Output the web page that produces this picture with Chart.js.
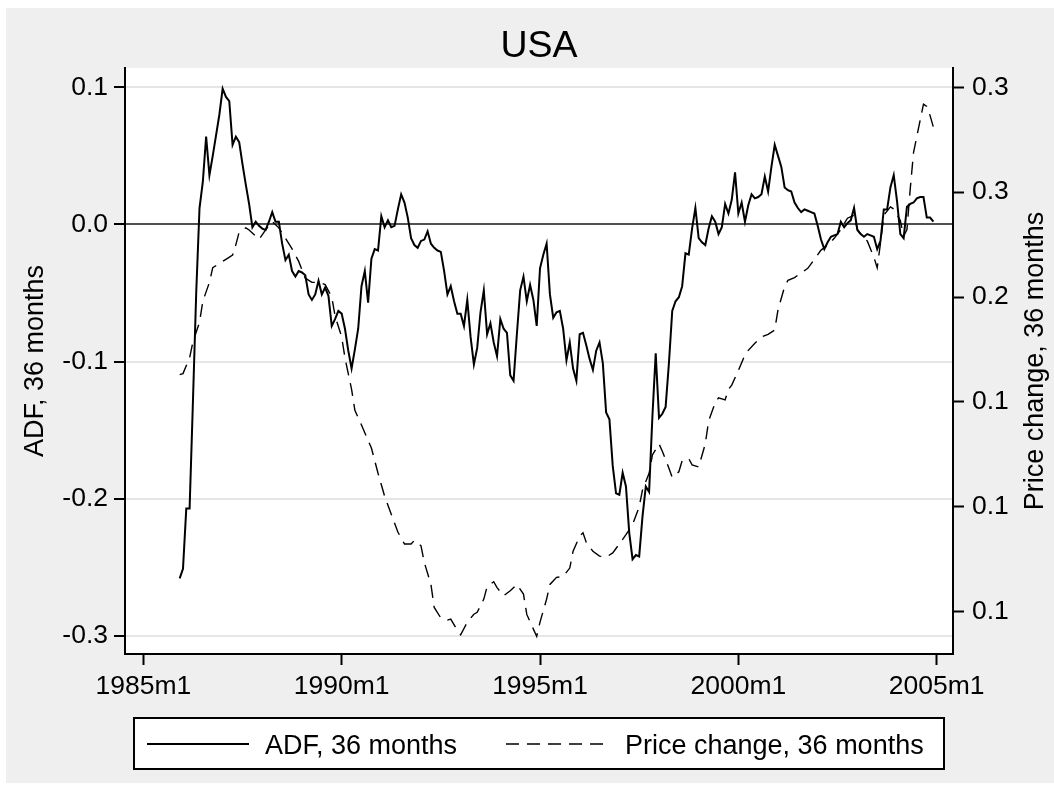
<!DOCTYPE html>
<html>
<head>
<meta charset="utf-8">
<title>USA</title>
<script src="https://cdn.jsdelivr.net/npm/chart.js@4/dist/chart.umd.min.js"></script>
<style>
  body { margin: 0; background: #fff; }
  canvas { display: block; }
</style>
</head>
<body>
<canvas id="usa-chart" width="1054" height="785"></canvas>
<script>
// months are counted from 1985m1 = 0

// ADF, 36 months - monthly from 1985m12 (month 11) to 2004m12 (month 239)
const adfStart = 11;
const adfValues = [
    -0.258,
    -0.251, -0.207, -0.207, -0.130, -0.050, 0.012, 0.031, 0.064, 0.036, 0.050, 0.065, 0.080,
    0.099, 0.093, 0.090, 0.058, 0.064, 0.060, 0.044, 0.029, 0.015, -0.002, 0.002, -0.001,
    -0.003, -0.004, 0.002, 0.009, 0.002, 0.002, -0.014, -0.026, -0.022, -0.034, -0.038, -0.034,
    -0.035, -0.037, -0.051, -0.055, -0.051, -0.041, -0.051, -0.046, -0.052, -0.074, -0.069, -0.063,
    -0.065, -0.076, -0.092, -0.105, -0.091, -0.076, -0.045, -0.034, -0.057, -0.025, -0.018, -0.019,
    0.006, -0.002, 0.003, -0.002, -0.001, 0.011, 0.022, 0.016, 0.005, -0.010, -0.015, -0.017,
    -0.012, -0.011, -0.005, -0.014, -0.017, -0.019, -0.020, -0.034, -0.051, -0.045, -0.056, -0.065,
    -0.065, -0.074, -0.055, -0.082, -0.102, -0.090, -0.064, -0.048, -0.080, -0.072, -0.086, -0.096,
    -0.069, -0.076, -0.079, -0.110, -0.114, -0.080, -0.048, -0.038, -0.056, -0.044, -0.055, -0.074,
    -0.032, -0.022, -0.014, -0.051, -0.068, -0.064, -0.063, -0.076, -0.099, -0.086, -0.105, -0.114,
    -0.080, -0.079, -0.088, -0.098, -0.106, -0.092, -0.086, -0.101, -0.137, -0.142, -0.176, -0.196,
    -0.197, -0.181, -0.191, -0.225, -0.244, -0.241, -0.242, -0.213, -0.191, -0.195, -0.140, -0.094,
    -0.141, -0.138, -0.133, -0.101, -0.063, -0.056, -0.053, -0.045, -0.021, -0.022, -0.003, 0.012,
    -0.010, -0.013, -0.015, -0.003, 0.006, 0.002, -0.007, -0.002, 0.015, 0.008, 0.018, 0.038,
    0.008, 0.016, 0.002, 0.014, 0.022, 0.019, 0.020, 0.022, 0.035, 0.024, 0.042, 0.058,
    0.050, 0.042, 0.027, 0.025, 0.024, 0.016, 0.012, 0.009, 0.011, 0.010, 0.009, 0.008,
    -0.001, -0.011, -0.018, -0.013, -0.009, -0.008, -0.007, 0.002, -0.002, 0.001, 0.003, 0.012,
    -0.004, -0.007, -0.009, -0.007, -0.008, -0.009, -0.018, -0.012, 0.011, 0.011, 0.027, 0.036,
    0.017, -0.007, -0.010, 0.013, 0.015, 0.016, 0.019, 0.020, 0.020, 0.005, 0.005, 0.002
];

// Price change, 36 months (right axis)
const priceMonths = [
    11, 12, 14, 15, 17, 18, 20, 21, 23, 25, 27, 28, 29, 31, 32, 34, 35, 37, 39, 41,
    43, 45, 47, 49, 51, 53, 55, 57, 58, 60, 61, 63, 64, 66, 69, 71, 73, 75, 77, 79,
    81, 82, 84, 85, 87, 88, 90, 92, 93, 95, 96, 98, 100, 101, 103, 104, 106, 107, 109, 111,
    113, 115, 116, 118, 119, 120, 122, 123, 125, 127, 129, 130, 132, 133, 134, 136, 138, 140, 142, 144,
    146, 148, 150, 151, 153, 154, 156, 157, 159, 160, 162, 163, 165, 166, 168, 170, 171, 173, 174, 176,
    177, 178, 180, 182, 183, 185, 187, 189, 191, 192, 194, 195, 197, 199, 201, 203, 205, 207, 209, 211,
    213, 215, 216, 218, 219, 221, 222, 223, 224, 226, 227, 229, 230, 231, 232, 233, 235, 236, 237, 238,
    239
];
const priceValues = [
    0.163, 0.1635, 0.171, 0.1785, 0.188, 0.198, 0.207, 0.214, 0.216, 0.218, 0.220, 0.225, 0.231, 0.233, 0.232, 0.229, 0.2275, 0.232, 0.236, 0.233,
    0.228, 0.223, 0.217, 0.209, 0.207, 0.207, 0.206, 0.200, 0.191, 0.181, 0.171, 0.156, 0.146, 0.139, 0.128, 0.116, 0.105, 0.0965, 0.088, 0.0823,
    0.0823, 0.084, 0.0814, 0.0735, 0.063, 0.052, 0.047, 0.046, 0.0465, 0.041, 0.039, 0.045, 0.0488, 0.0497, 0.056, 0.062, 0.0643, 0.0615, 0.0576, 0.060,
    0.063, 0.0584, 0.0487, 0.0417, 0.0382, 0.045, 0.056, 0.063, 0.0664, 0.0668, 0.0708, 0.0788, 0.086, 0.0876, 0.083, 0.0788, 0.0765, 0.076, 0.078, 0.0823,
    0.0867, 0.0915, 0.100, 0.108, 0.116, 0.1247, 0.130, 0.1265, 0.1184, 0.114, 0.1167, 0.122, 0.123, 0.120, 0.119, 0.130, 0.1409, 0.1496, 0.152, 0.151,
    0.156, 0.158, 0.165, 0.1724, 0.1746, 0.178, 0.181, 0.1822, 0.1843, 0.194, 0.205, 0.208, 0.2093, 0.2115, 0.2137, 0.218, 0.2224, 0.2246, 0.228, 0.2322,
    0.2376, 0.239, 0.2322, 0.228, 0.2267, 0.219, 0.214, 0.2257, 0.239, 0.243, 0.242, 0.2365, 0.229, 0.2322, 0.2517, 0.269, 0.2843, 0.292, 0.2909, 0.2865,
    0.281
];

// axis ticks
const xTicks = [0, 60, 120, 180, 240];
const xTickLabels = ["1985m1", "1990m1", "1995m1", "2000m1", "2005m1"];
const adfTicks = [-0.3, -0.2, -0.1, 0, 0.1];
const adfTickLabels = ["-0.3", "-0.2", "-0.1", "0.0", "0.1"];
const priceTicks = [0.05, 0.10, 0.15, 0.20, 0.25, 0.30];
const priceTickLabels = ["0.1", "0.1", "0.1", "0.2", "0.3", "0.3"];

const fontFamily = '"Liberation Sans", Arial, Helvetica, sans-serif';
const tickFont = { family: fontFamily, size: 26.5 };

const adfData = adfValues.map((v, i) => ({ x: adfStart + i, y: v }));
const priceData = priceMonths.map((m, i) => ({ x: m, y: priceValues[i] }));

// gray graph region, title, axis titles, legend
const stataFrame = {
    id: 'stataFrame',
    beforeDraw(chart) {
        const ctx = chart.ctx;
        const a = chart.chartArea;
        ctx.save();
        ctx.fillStyle = '#ffffff';
        ctx.fillRect(0, 0, chart.width, chart.height);
        ctx.fillStyle = '#efefef';
        ctx.fillRect(6, 8, chart.width - 6, chart.height - 10);
        ctx.fillStyle = '#ffffff';
        ctx.fillRect(a.left, a.top, a.right - a.left, a.bottom - a.top);
        ctx.restore();
    },
    afterDraw(chart) {
        const ctx = chart.ctx;
        const a = chart.chartArea;
        const midY = (a.top + a.bottom) / 2;
        ctx.save();
        ctx.fillStyle = '#000';
        ctx.textBaseline = 'alphabetic';

        // title
        ctx.font = '37.5px ' + fontFamily;
        ctx.textAlign = 'center';
        ctx.fillText('USA', (a.left + a.right) / 2, 56.5);

        // axis titles, both read upwards
        ctx.font = '27px ' + fontFamily;
        ctx.save();
        ctx.translate(43, midY);
        ctx.rotate(-Math.PI / 2);
        ctx.fillText(chart.data.datasets[0].label, 0, 0);
        ctx.restore();
        ctx.save();
        ctx.translate(1043, midY);
        ctx.rotate(-Math.PI / 2);
        ctx.fillText(chart.data.datasets[1].label, 0, 0);
        ctx.restore();

        // legend
        const lx = 134, ly = 718, lw = 810, lh = 51;
        ctx.fillStyle = '#fff';
        ctx.fillRect(lx, ly, lw, lh);
        ctx.strokeStyle = '#000';
        ctx.lineWidth = 2;
        ctx.strokeRect(lx, ly, lw, lh);

        const items = [
            { ds: chart.data.datasets[0], x0: 147, x1: 249, tx: 265 },
            { ds: chart.data.datasets[1], x0: 506, x1: 608, tx: 625 }
        ];
        items.forEach(it => {
            ctx.save();
            ctx.strokeStyle = it.ds.borderColor;
            ctx.lineWidth = it.ds.borderWidth;
            ctx.setLineDash(it.ds.borderDash || []);
            ctx.beginPath();
            ctx.moveTo(it.x0, 744);
            ctx.lineTo(it.x1, 744);
            ctx.stroke();
            ctx.restore();
            ctx.fillStyle = '#000';
            ctx.textAlign = 'left';
            ctx.fillText(it.ds.label, it.tx, 754);
        });
        ctx.restore();
    }
};

const usaCanvas = document.getElementById("usa-chart");
let usaChart = new Chart(usaCanvas, {
    type: 'line',
    data: {
        datasets: [{
            label: 'ADF, 36 months',
            data: adfData,
            yAxisID: 'y',
            borderColor: '#000000',
            borderWidth: 2,
            pointRadius: 0,
            tension: 0,
            fill: false
        }, {
            label: 'Price change, 36 months',
            data: priceData,
            yAxisID: 'y2',
            borderColor: '#000000',
            borderWidth: 1.4,
            borderDash: [13, 8],
            pointRadius: 0,
            tension: 0,
            fill: false
        }]
    },
    options: {
        responsive: false,
        animation: false,
        devicePixelRatio: 1,
        layout: {
            padding: { top: 68, left: 0, right: 0, bottom: 0 }
        },
        plugins: {
            legend: { display: false },
            tooltip: { enabled: false }
        },
        scales: {
            x: {
                type: 'linear',
                position: 'bottom',
                min: -5.54,
                max: 244.93,
                afterBuildTicks: s => { s.ticks = xTicks.map(v => ({ value: v })); },
                afterFit: s => { s.height = 131; },
                ticks: {
                    callback: (v, i) => xTickLabels[i],
                    font: tickFont,
                    color: '#000',
                    padding: 6,
                    maxRotation: 0,
                    autoSkip: false
                },
                grid: { drawOnChartArea: false, tickLength: 11, tickColor: '#000', tickWidth: 2 },
                border: { color: '#000', width: 2 }
            },
            y: {
                type: 'linear',
                position: 'left',
                min: -0.31312,
                max: 0.11407,
                afterBuildTicks: s => { s.ticks = adfTicks.map(v => ({ value: v })); },
                afterFit: s => { s.width = 125; },
                ticks: {
                    callback: (v, i) => adfTickLabels[i],
                    font: tickFont,
                    color: '#000',
                    padding: 6
                },
                grid: {
                    color: c => (c.tick && c.tick.value === 0) ? '#505050' : '#e6e6e6',
                    lineWidth: 2,
                    tickLength: 11,
                    tickColor: '#000',
                    tickWidth: 2
                },
                border: { color: '#000', width: 2 }
            },
            y2: {
                type: 'linear',
                position: 'right',
                min: 0.02983,
                max: 0.3092,
                afterBuildTicks: s => { s.ticks = priceTicks.map(v => ({ value: v })); },
                afterFit: s => { s.width = 101; },
                ticks: {
                    callback: (v, i) => priceTickLabels[i],
                    font: tickFont,
                    color: '#000',
                    padding: 8
                },
                grid: { drawOnChartArea: false, tickLength: 11, tickColor: '#000', tickWidth: 2 },
                border: { color: '#000', width: 2 }
            }
        }
    },
    plugins: [stataFrame]
});
</script>
</body>
</html>
